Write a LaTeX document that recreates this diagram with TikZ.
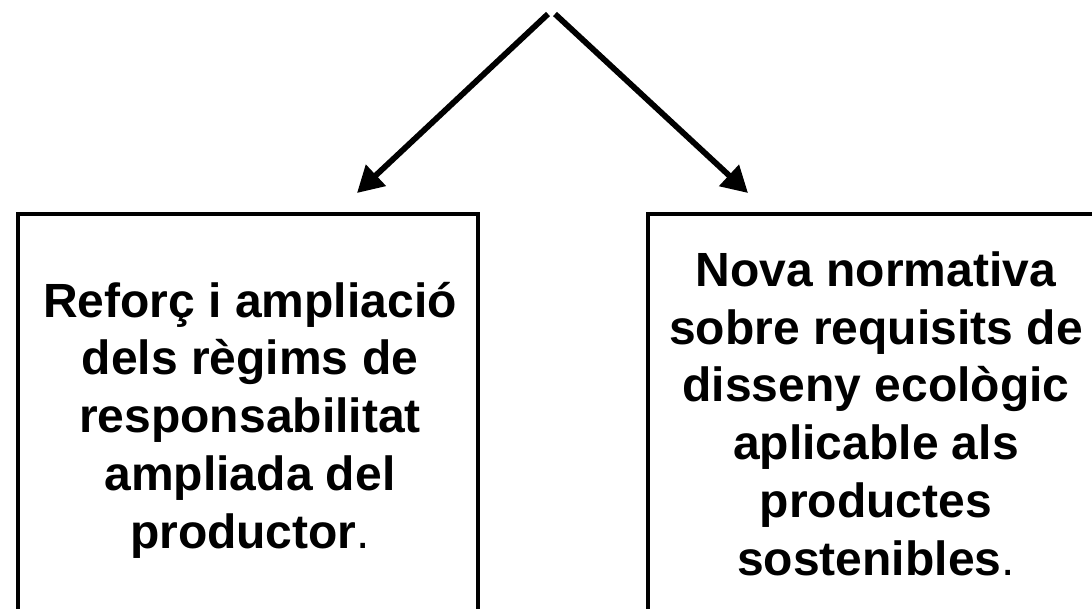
\documentclass[tikz,border=0pt]{standalone}
\usepackage{fontspec}
\setmainfont{Liberation Sans}
\usetikzlibrary{arrows.meta}
\tikzset{
  boxframe/.style={draw=black, line width=1.7pt, fill=none},
  boxtext/.style={align=center, inner sep=0pt, anchor=base,
    font=\fontsize{24pt}{28.85pt}\selectfont\bfseries},
  bigarrow/.style={line width=2.9pt, -{Triangle[length=13pt,width=14pt]}}
}
\begin{document}
\begin{tikzpicture}[x=0.5pt,y=-0.5pt]
\useasboundingbox (0,0) rectangle (1092,609);
% boxes (bottom and right edge run past the picture)
\draw[boxframe] (18,214) rectangle (478,660);
\draw[boxframe] (648,214) rectangle (1106,660);
% base anchor = baseline of the last line
\node[boxtext] (lefttext) at (250,548) {Reforç i ampliació\\dels règims de\\responsabilitat\\ampliada del\\productor{\mdseries.}};
\node[boxtext] (righttext) at (876,575) {Nova normativa\\sobre requisits de\\disseny ecològic\\aplicable als\\productes\\sostenibles{\mdseries.}};
% arrows
\coordinate (topL) at (548,14);
\coordinate (topR) at (555,14);
\coordinate (tipL) at (357,193);
\coordinate (tipR) at (748,193);
\draw[bigarrow] (topL) -- (tipL);
\draw[bigarrow] (topR) -- (tipR);
\end{tikzpicture}
\end{document}
